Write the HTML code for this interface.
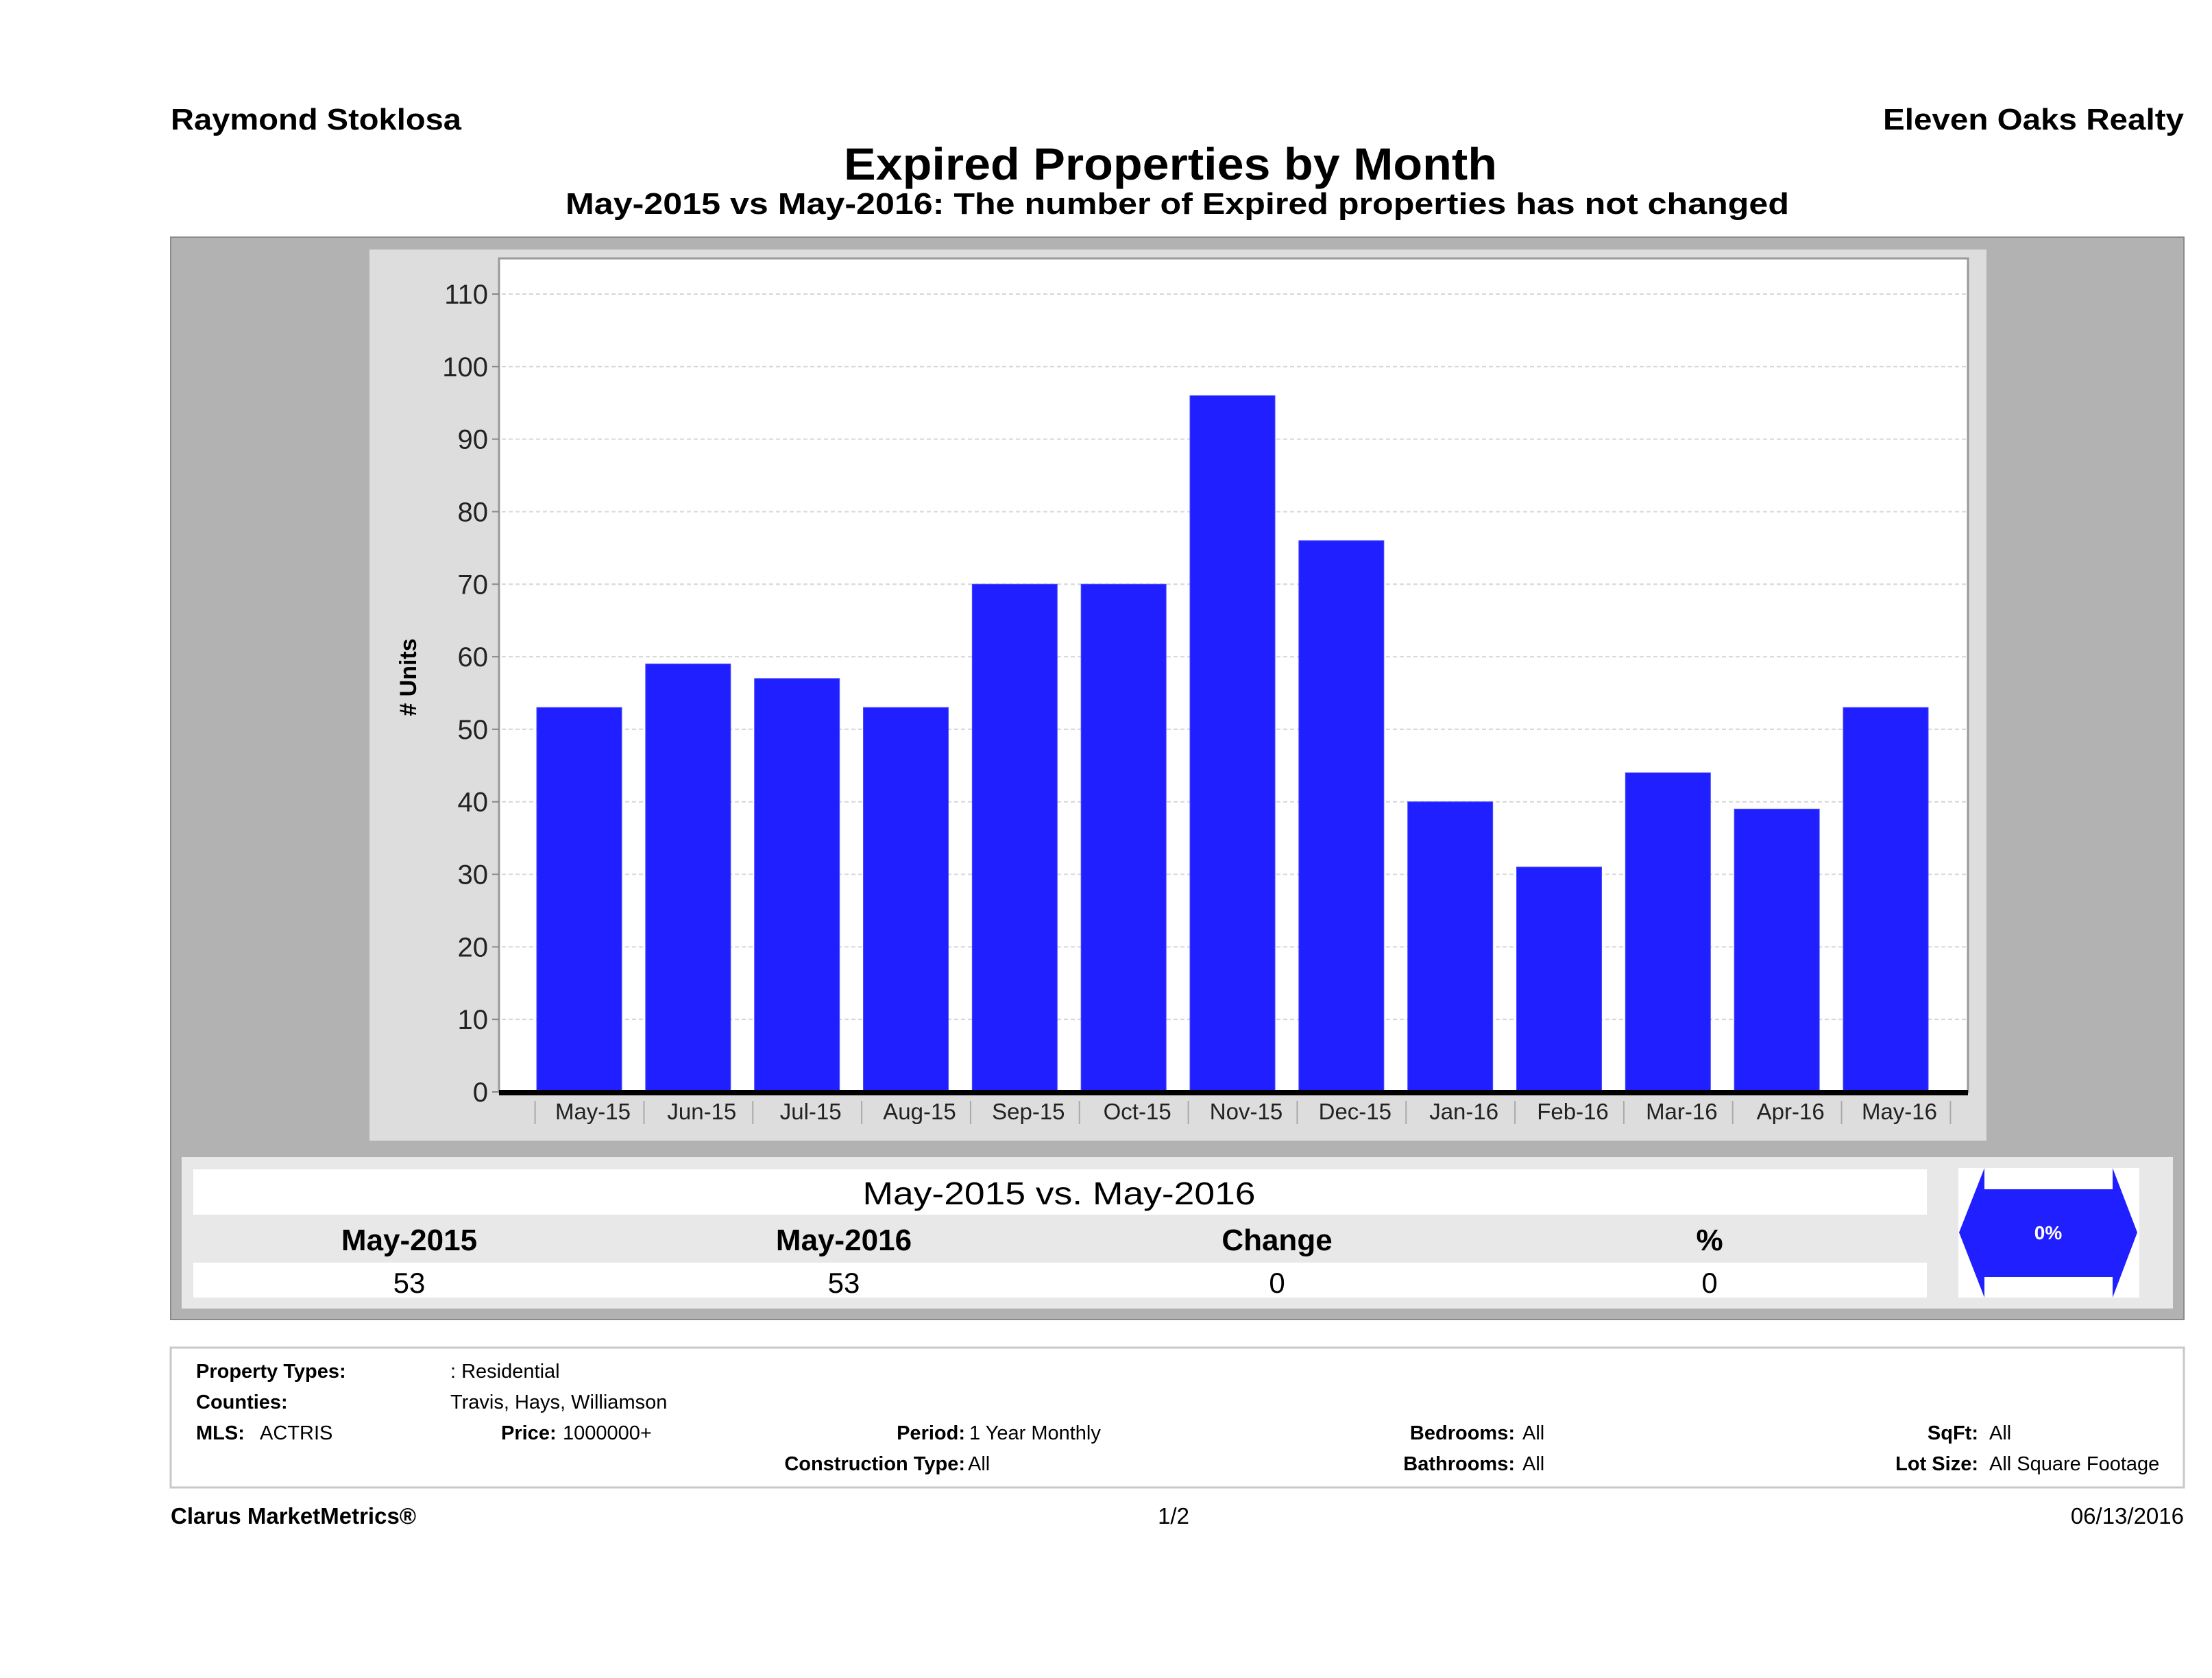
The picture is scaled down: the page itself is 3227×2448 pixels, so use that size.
<!DOCTYPE html>
<html><head><meta charset="utf-8"><style>
html,body{margin:0;padding:0;background:#fff}
svg{display:block}
text{font-family:"Liberation Sans",sans-serif}
</style></head><body>
<svg width="3227" height="2448" viewBox="0 0 3227 2448" xmlns="http://www.w3.org/2000/svg">
<text x="249" y="189" font-size="44" font-weight="bold" textLength="424" lengthAdjust="spacingAndGlyphs">Raymond Stoklosa</text>
<text x="3186" y="189" font-size="44" font-weight="bold" text-anchor="end" textLength="439" lengthAdjust="spacingAndGlyphs">Eleven Oaks Realty</text>
<text x="1231" y="262" font-size="66" font-weight="bold" textLength="953" lengthAdjust="spacingAndGlyphs">Expired Properties by Month</text>
<text x="825" y="312" font-size="44" font-weight="bold" textLength="1785" lengthAdjust="spacingAndGlyphs">May-2015 vs May-2016: The number of Expired  properties has not changed</text>

<rect x="249" y="346" width="2937" height="1579" fill="#b2b2b2" stroke="#8a8a8a" stroke-width="2"/>
<rect x="539" y="364" width="2359" height="1300" fill="#dddddd"/>
<rect x="728" y="377" width="2143" height="1216" fill="#ffffff" stroke="#999" stroke-width="3"/>
<g id="grid"></g>
<g id="yticks"></g>
<g id="bars"></g>
<rect x="728" y="1590" width="2143" height="8" fill="#000"/>
<g id="xlabels"></g>
<text transform="translate(607,988) rotate(-90)" font-size="34" font-weight="bold" text-anchor="middle"># Units</text>

<rect x="265" y="1688" width="2905" height="221" fill="#e8e8e8"/>
<rect x="282" y="1706" width="2529" height="66" fill="#fff"/>
<rect x="282" y="1842" width="2529" height="51" fill="#fff"/>
<text x="1545" y="1757" font-size="46" text-anchor="middle" textLength="573" lengthAdjust="spacingAndGlyphs">May-2015 vs. May-2016</text>
<g font-size="44" font-weight="bold" text-anchor="middle">
<text x="597" y="1824">May-2015</text>
<text x="1231" y="1824">May-2016</text>
<text x="1863" y="1824">Change</text>
<text x="2494" y="1824">%</text>
</g>
<g font-size="42" text-anchor="middle">
<text x="597" y="1886">53</text>
<text x="1231" y="1886">53</text>
<text x="1863" y="1886">0</text>
<text x="2494" y="1886">0</text>
</g>
<rect x="2857" y="1704" width="264" height="189" fill="#fff"/>
<polygon points="2858,1798 2895,1704 2895,1735 3082,1735 3082,1704 3118,1798 3082,1893 3082,1863 2895,1863 2895,1893" fill="#1f1fff"/>
<text x="2988" y="1808" font-size="28" font-weight="bold" fill="#fff" text-anchor="middle" font-family="Liberation Serif, serif">0%</text>

<rect x="249" y="1966" width="2937" height="204" fill="#fff" stroke="#c8c8c8" stroke-width="3"/>
<g font-size="29">
<text x="286" y="2010" font-weight="bold">Property Types:</text>
<text x="657" y="2010">: Residential</text>
<text x="286" y="2055" font-weight="bold">Counties:</text>
<text x="657" y="2055">Travis, Hays, Williamson</text>
<text x="286" y="2100" font-weight="bold">MLS:</text>
<text x="379" y="2100">ACTRIS</text>
<text x="731" y="2100" font-weight="bold">Price:</text>
<text x="821" y="2100">1000000+</text>
<text x="1408" y="2100" font-weight="bold" text-anchor="end">Period:</text>
<text x="1414" y="2100">1 Year Monthly</text>
<text x="1408" y="2145" font-weight="bold" text-anchor="end">Construction Type:</text>
<text x="1412" y="2145">All</text>
<text x="2210" y="2100" font-weight="bold" text-anchor="end">Bedrooms:</text>
<text x="2221" y="2100">All</text>
<text x="2210" y="2145" font-weight="bold" text-anchor="end">Bathrooms:</text>
<text x="2221" y="2145">All</text>
<text x="2886" y="2100" font-weight="bold" text-anchor="end">SqFt:</text>
<text x="2902" y="2100">All</text>
<text x="2886" y="2145" font-weight="bold" text-anchor="end">Lot Size:</text>
<text x="2902" y="2145">All Square Footage</text>
</g>
<text x="249" y="2223" font-size="33" font-weight="bold">Clarus MarketMetrics®</text>
<text x="1712" y="2223" font-size="33" text-anchor="middle">1/2</text>
<text x="3186" y="2223" font-size="33" text-anchor="end">06/13/2016</text>
</svg>
<script>
const categories = ["May-15","Jun-15","Jul-15","Aug-15","Sep-15","Oct-15","Nov-15","Dec-15","Jan-16","Feb-16","Mar-16","Apr-16","May-16"];
const expiredCounts = [53,59,57,53,70,70,96,76,40,31,44,39,53];
const yTicks = [0,10,20,30,40,50,60,70,80,90,100,110];

const NS = "http://www.w3.org/2000/svg";
const y0 = 1593, yPer = (1593 - 429) / 110;
function yScale(v){ return y0 - v * yPer; }
const firstCenter = 845, step = (2751 - 845) / 12, barW = 124;
function xCenter(i){ return firstCenter + i * step; }
function mk(tag, attrs){ const e = document.createElementNS(NS, tag); for (const k in attrs) e.setAttribute(k, attrs[k]); return e; }

const grid = document.getElementById('grid');
const yt = document.getElementById('yticks');
yTicks.forEach(t => {
  const y = yScale(t);
  if (t > 0) {
    const g = mk('line', {x1: 732, x2: 2868, y1: y, y2: y, stroke: '#d6d6d6', 'stroke-width': 2, 'stroke-dasharray': '6,4'});
    
    
    grid.appendChild(g);
  }
  const tk = mk('line', {x1: 718, x2: 728, y1: y, y2: y, stroke: '#888', 'stroke-width': 2});
  
  
  yt.appendChild(tk);
  const tx = mk('text', {x: 712, y: y + 14, 'font-size': 40, 'text-anchor': 'end', fill: '#222'});
  tx.textContent = t;
  
  
  yt.appendChild(tx);
});

const bars = document.getElementById('bars');
const xl = document.getElementById('xlabels');
expiredCounts.forEach((v, i) => {
  const cx = xCenter(i);
  const r = mk('rect', {x: cx - barW/2, y: yScale(v), width: barW, height: y0 - yScale(v), fill: '#1f1fff', stroke: '#4a4aff', 'stroke-width': 1});
  
  
  bars.appendChild(r);
  const sep = mk('line', {x1: cx - step/2 + 15, x2: cx - step/2 + 15, y1: 1606, y2: 1640, stroke: '#aaa', 'stroke-width': 2});
  
  
  xl.appendChild(sep);
  const t = mk('text', {x: cx + 20, y: 1633, 'font-size': 33, 'text-anchor': 'middle', fill: '#222'});
  t.textContent = categories[i];
  
  
  xl.appendChild(t);
});
const lastSep = mk('line', {x1: xCenter(12) + step/2 + 15, x2: xCenter(12) + step/2 + 15, y1: 1606, y2: 1640, stroke: '#aaa', 'stroke-width': 2});


xl.appendChild(lastSep);
</script>
</body></html>
